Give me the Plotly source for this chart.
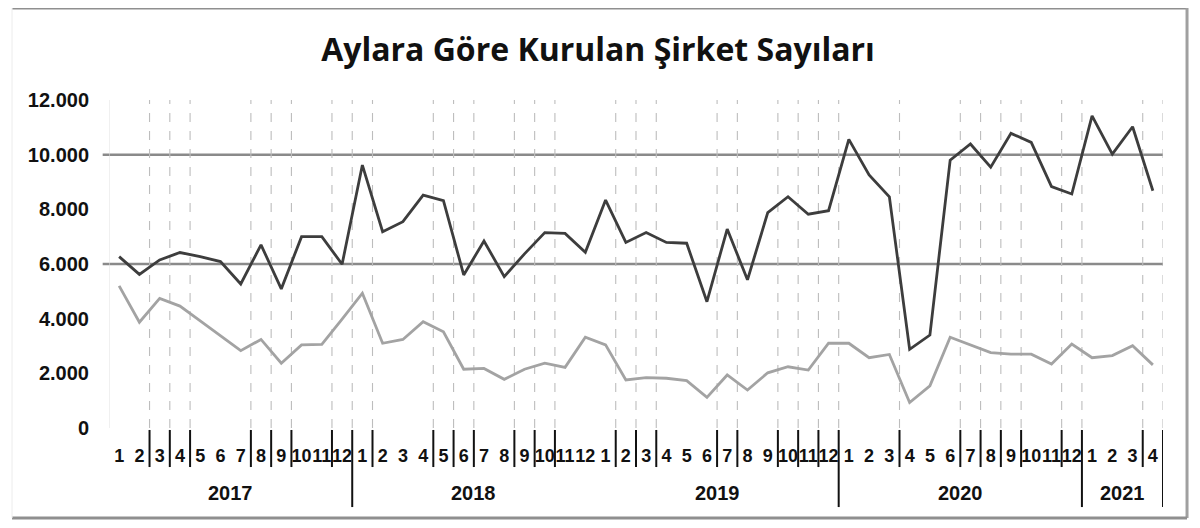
import plotly.graph_objects as go

# ---------------- data ----------------
month_labels = ["1","2","3","4","5","6","7","8","9","10","11","12",
                "1","2","3","4","5","6","7","8","9","10","11","12",
                "1","2","3","4","5","6","7","8","9","10","11","12",
                "1","2","3","4","5","6","7","8","9","10","11","12",
                "1","2","3","4"]
years = ["2017", "2018", "2019", "2020", "2021"]
year_month_counts = [12, 12, 12, 12, 4]

dark_series = [6270, 5620, 6150, 6420, 6270, 6090, 5270, 6700, 5090, 7000, 7000, 5990,
               9620, 7180, 7550, 8520, 8320, 5600, 6840, 5540, 6370, 7150, 7120, 6430,
               8340, 6790, 7150, 6790, 6760, 4620, 7280, 5420, 7880, 8460, 7820, 7950,
               10560, 9260, 8460, 2880, 3400, 9800, 10390, 9540, 10780, 10450, 8830, 8560,
               11420, 10020, 11020, 8680]
light_series = [5200, 3870, 4740, 4460, 3920, 3380, 2830, 3240, 2370, 3040, 3060, 3980,
                4930, 3100, 3240, 3890, 3520, 2150, 2180, 1780, 2150, 2370, 2220, 3320,
                3040, 1760, 1840, 1820, 1730, 1120, 1940, 1390, 2020, 2240, 2120, 3100,
                3100, 2570, 2690, 930, 1540, 3320, 3040, 2760, 2700, 2700, 2340, 3070,
                2570, 2650, 3010, 2310]

y_tick_vals = [0, 2000, 4000, 6000, 8000, 10000, 12000]
y_tick_text = ["0", "2.000", "4.000", "6.000", "8.000", "10.000", "12.000"]
grid_levels = [6000, 10000]

# boundaries (after index k) where dashed separators are drawn
separator_after = [1, 2, 3, 6, 7, 8, 10, 11, 12, 15, 16, 17, 19, 20, 21, 24, 25, 26,
                   29, 30, 32, 33, 34, 35, 38, 41, 42, 43, 44, 46, 47, 50, 51]

title_text = "Aylara Göre Kurulan Şirket Sayıları"

# ---------------- figure ----------------
x = list(range(len(month_labels)))

fig = go.Figure()
fig.add_trace(go.Scatter(x=x, y=light_series, mode="lines", name="Seri 2",
                         line=dict(color="#a3a3a3", width=2.8)))
fig.add_trace(go.Scatter(x=x, y=dark_series, mode="lines", name="Seri 1",
                         line=dict(color="#3d3d3d", width=2.8)))

shapes = []
for g in grid_levels:
    shapes.append(dict(type="line", xref="paper", yref="y", x0=-0.006, x1=1.0,
                       y0=g, y1=g, line=dict(color="#8a8a8a", width=2.5), layer="below"))
shapes.append(dict(type="line", xref="x", yref="paper", x0=-0.5, x1=-0.5, y0=0, y1=1,
                   line=dict(color="#e2e2e2", width=1), layer="below"))

year_bounds = []
acc = 0
for c in year_month_counts:
    acc += c
    year_bounds.append(acc - 1)
long_seps = [b for b in year_bounds if b != 23]

for k in separator_after:
    xs = k + 0.5
    shapes.append(dict(type="line", xref="x", yref="paper", x0=xs, x1=xs, y0=0, y1=1,
                       line=dict(color="#bdbdbd", width=1.1, dash="dash"), layer="below"))
    y_low = -0.241 if k in long_seps else -0.119
    shapes.append(dict(type="line", xref="x", yref="paper", x0=xs, x1=xs, y0=-0.006, y1=y_low,
                       line=dict(color="#111111", width=2)))

bx0, bx1, by0, by1 = -0.092, 1.0228, -0.2744, 1.2805
shapes.append(dict(type="line", xref="paper", yref="paper", x0=bx0, x1=bx1, y0=by1, y1=by1,
                   line=dict(color="#8f8f8f", width=3)))
shapes.append(dict(type="line", xref="paper", yref="paper", x0=bx1, x1=bx1, y0=by0, y1=by1,
                   line=dict(color="#a0a0a0", width=3)))
shapes.append(dict(type="line", xref="paper", yref="paper", x0=bx0, x1=bx1, y0=by0, y1=by0,
                   line=dict(color="#8f8f8f", width=3)))
shapes.append(dict(type="line", xref="paper", yref="paper", x0=bx0, x1=bx0, y0=by0, y1=by1,
                   line=dict(color="#ececec", width=1)))

annotations = []
start = 0
for yr, c in zip(years, year_month_counts):
    center = start - 0.5 + c / 2.0
    annotations.append(dict(x=center, y=-0.198, xref="x", yref="paper", text=yr,
                            showarrow=False, xanchor="center", yanchor="middle",
                            font=dict(family="Liberation Sans, Arial", size=20, color="#111111",
                                      weight="bold")))
    start += c

# page body has an 8px margin; figure is sized so the plot lands where the reference has it
fig.update_layout(
    width=1192, height=520,
    margin=dict(l=101, r=37, t=92, b=100),
    paper_bgcolor="white", plot_bgcolor="white",
    showlegend=False,
    title=dict(text=title_text, x=(598 - 8) / 1192, y=1 - 42 / 520,
               xanchor="center", yanchor="middle",
               font=dict(family="Open Sans", size=32, color="#111111", weight="bold")),
    xaxis=dict(range=[-0.5, len(month_labels) - 0.5], tickmode="array", tickvals=x,
               ticktext=month_labels, showgrid=False, zeroline=False, showline=False,
               ticks="outside", ticklen=11, tickcolor="rgba(0,0,0,0)",
               tickfont=dict(family="Liberation Sans, Arial", size=18, color="#111111",
                             weight="bold"),
               tickangle=0, fixedrange=True),
    yaxis=dict(range=[0, 12000], tickmode="array", tickvals=y_tick_vals, ticktext=y_tick_text,
               showgrid=False, zeroline=False, showline=False,
               ticks="outside", ticklen=15, tickcolor="rgba(0,0,0,0)",
               tickfont=dict(family="Liberation Sans, Arial", size=20, color="#111111",
                             weight="bold"),
               fixedrange=True),
    shapes=shapes,
    annotations=annotations,
)

fig.write_html("out.html")
